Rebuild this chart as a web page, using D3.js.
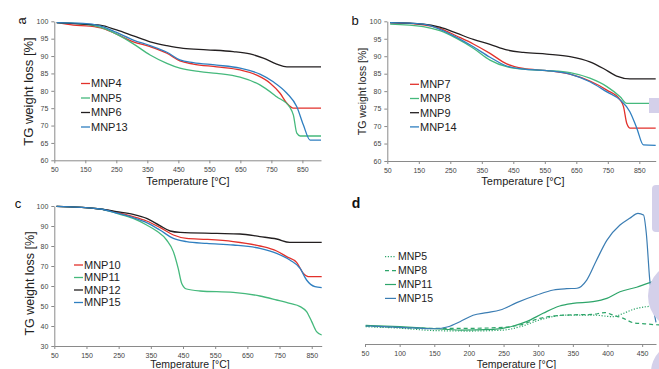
<!DOCTYPE html>
<html>
<head>
<meta charset="utf-8">
<script src="https://cdn.jsdelivr.net/npm/d3@7"></script>
<style>
  body { margin: 0; background: #fff; }
  svg { display: block; font-family: "Liberation Sans", Arial, sans-serif; }
</style>
</head>
<body>
<svg id="vis" width="659" height="369"></svg>
<script>
// ---- data: [temperature °C, value] ----
const tgTicksX = [50, 150, 250, 350, 450, 550, 650, 750, 850];
const tgTicksYab = [60, 65, 70, 75, 80, 85, 90, 95, 100];
const tgTicksYc = [30, 40, 50, 60, 70, 80, 90, 100];
const dtgTicksX = [50, 100, 150, 200, 250, 300, 350, 400, 450];

// panel a
const MNP4 = [[58,99.6],[111,98.9],[165,98.6],[208,97.9],[251,96.3],[305,94.1],[359,92.7],[413,90.8],[455,88.6],[498,87.7],[574,86.9],[649,86.0],[703,84.5],[746,82.2],[778,79.3],[800,76.4],[821,75.0],[910,75.0]];
const MNP5 = [[58,99.6],[143,99.2],[197,98.3],[251,96.3],[305,93.5],[359,90.3],[413,87.9],[455,86.5],[520,85.5],[574,85.0],[649,83.9],[713,81.7],[767,78.3],[810,75.2],[821,73.0],[832,67.8],[843,67.0],[910,67.0]];
const MNP6 = [[58,99.6],[143,99.2],[197,98.9],[251,97.5],[305,95.8],[359,94.1],[413,93.0],[466,92.2],[542,91.8],[627,91.3],[681,90.6],[724,89.4],[767,87.7],[800,86.9],[910,86.9]];
const MNP13 = [[58,99.6],[143,99.4],[197,98.7],[251,96.8],[305,94.6],[359,93.0],[413,91.1],[455,88.9],[498,88.1],[574,87.4],[649,86.5],[713,84.8],[756,82.6],[800,79.3],[832,75.4],[853,70.2],[875,65.8],[910,65.8]];

// panel b
const MNP7 = [[59,99.6],[164,99.0],[217,98.0],[270,95.8],[323,93.5],[376,90.8],[429,87.8],[482,86.5],[556,85.9],[630,84.9],[693,82.9],[747,80.3],[789,77.5],[800,75.5],[810,70.8],[821,69.4],[902,69.4]];
const MNP8 = [[59,99.2],[164,98.5],[217,97.3],[270,95.1],[323,92.3],[376,88.9],[429,87.0],[482,86.3],[556,85.9],[630,85.3],[693,83.7],[747,81.3],[789,78.4],[810,76.5],[902,76.5]];
const MNP9 = [[59,99.6],[164,99.2],[217,98.3],[270,96.6],[323,94.8],[376,93.4],[429,91.8],[482,91.1],[556,90.6],[630,89.9],[693,88.4],[736,86.5],[778,84.3],[820,83.5],[902,83.5]];
const MNP14 = [[59,99.6],[164,99.2],[217,97.7],[270,95.4],[323,92.7],[376,89.7],[429,87.2],[482,86.3],[556,85.9],[630,84.9],[693,82.7],[747,79.8],[789,77.5],[820,74.1],[842,69.4],[863,64.6],[902,64.5]];

// panel c
const MNP10 = [[57,99.8],[192,98.5],[244,96.8],[295,94.7],[337,92.5],[378,89.3],[420,85.5],[461,83.8],[524,83.3],[606,82.2],[689,80.0],[741,77.5],[772,74.7],[803,71.8],[824,66.3],[839,64.7],[881,64.7]];
const MNP11 = [[57,99.8],[192,98.5],[244,96.3],[295,93.8],[337,90.5],[368,87.5],[399,83.0],[420,77.2],[435,68.8],[446,61.3],[461,58.5],[503,57.5],[606,56.8],[689,55.0],[741,53.0],[782,51.3],[814,49.7],[834,47.2],[850,42.2],[865,37.2],[881,35.5]];
const MNP12 = [[57,99.8],[192,98.5],[244,97.2],[295,95.8],[337,93.8],[378,90.2],[410,87.5],[441,86.8],[555,86.3],[627,86.0],[689,84.7],[741,83.5],[782,81.8],[881,81.8]];
const MNP15 = [[57,99.8],[192,98.5],[244,96.5],[295,94.2],[337,91.7],[378,88.0],[420,83.8],[461,82.2],[524,81.3],[606,80.5],[689,78.8],[741,76.3],[782,73.0],[814,68.8],[834,63.0],[860,59.7],[881,59.2]];

// panel d (DTG, arbitrary units)
const dMNP5 = [[51,12.0],[100,11.0],[151,9.3],[201,9.0],[250,9.7],[274,12.0],[302,16.7],[341,20.1],[379,20.1],[408,19.0],[423,21.3],[437,24.0],[456,25.9],[466,26.4],[475,26.6]];
const dMNP8 = [[51,12.5],[151,10.9],[201,10.9],[250,11.6],[274,13.2],[302,17.8],[341,20.1],[379,20.6],[396,21.8],[408,20.1],[423,17.8],[437,14.8],[456,13.9],[475,13.2]];
const dMNP11 = [[51,13.0],[100,12.0],[151,10.6],[187,9.7],[235,10.2],[264,12.5],[283,15.5],[307,21.3],[331,26.4],[350,28.2],[379,29.4],[399,31.7],[418,36.3],[442,39.4],[461,42.6],[468,43.5]];
const dMNP15 = [[51,12.5],[100,11.6],[151,10.6],[170,12.0],[187,15.5],[206,20.0],[226,21.8],[245,23.6],[269,28.7],[298,34.0],[322,37.5],[341,38.4],[356,38.7],[370,44.4],[384,58.0],[399,72.0],[418,82.6],[432,87.3],[444,90.7],[452,89.6],[456,76.9],[461,44.4],[466,26.0],[470,15.0]];

const red = "#e2312b", green = "#45b97c", black = "#231f20", blue = "#2f7fc0";
const dGreen = "#2ea56a", dBlue = "#3b7db3";

const svg = d3.select("#vis");
const axisGray = "#8a8a8a";

function styleAxis(g) {
  g.select(".domain").attr("stroke", axisGray);
  g.selectAll(".tick line").attr("stroke", axisGray);
  g.selectAll(".tick text")
    .attr("fill", "#444")
    .attr("font-size", 7)
    .attr("font-family", "\"Liberation Sans\", Arial, sans-serif");
}

function drawTG(p) {
  const x = d3.scaleLinear().domain(p.xDomain).range([p.left, p.right]);
  const y = d3.scaleLinear().domain(p.yDomain).range([p.bottom, p.top]);
  const g = svg.append("g").attr("class", p.name);

  g.append("g")
    .attr("transform", `translate(0,${p.bottom})`)
    .call(d3.axisBottom(x).tickValues(tgTicksX).tickSize(3).tickSizeOuter(0).tickPadding(4))
    .call(styleAxis);

  g.append("g")
    .attr("transform", `translate(${p.left},0)`)
    .call(d3.axisLeft(y).tickValues(p.yTicks).tickSize(3).tickSizeOuter(0).tickPadding(3))
    .call(styleAxis);

  const line = d3.line()
    .x(d => x(d[0]))
    .y(d => y(d[1]))
    .curve(d3.curveMonotoneX);

  g.append("g").selectAll("path")
    .data(p.series)
    .join("path")
    .attr("d", d => line(d.values))
    .attr("fill", "none")
    .attr("stroke", d => d.color)
    .attr("stroke-width", 1.3);

  // legend
  const leg = g.append("g").attr("font-size", p.legendSize).attr("fill", "#222");
  p.series.forEach((s, i) => {
    const ly = p.legendY + i * p.legendStep;
    leg.append("line")
      .attr("x1", p.legendX).attr("x2", p.legendX + 9)
      .attr("y1", ly).attr("y2", ly)
      .attr("stroke", s.color).attr("stroke-width", 1.3);
    leg.append("text")
      .attr("x", p.legendX + 10).attr("y", ly)
      .attr("dy", "0.35em")
      .text(s.key);
  });

  g.append("text")
    .attr("transform", `translate(${p.yLabelX},${p.yLabelY}) rotate(-90)`)
    .attr("text-anchor", "middle")
    .attr("dy", "0.35em")
    .attr("font-size", p.yLabelSize)
    .attr("fill", "#222")
    .text("TG weight loss [%]");

  g.append("text")
    .attr("x", p.xLabelX).attr("y", p.xLabelY)
    .attr("text-anchor", "middle")
    .attr("font-size", p.xLabelSize || 11)
    .attr("fill", "#222")
    .text("Temperature [°C]");

  const tag = g.append("text")
    .attr("text-anchor", "middle")
    .attr("dy", "0.35em")
    .attr("font-size", 13)
    .attr("fill", "#111")
    .text(p.tag);
  if (p.tagRotate) tag.attr("transform", `translate(${p.tagX},${p.tagY}) rotate(-90)`);
  else tag.attr("x", p.tagX).attr("y", p.tagY);
}

drawTG({
  name: "panel-a", tag: "a", tagX: 21, tagY: 21, tagRotate: true,
  left: 54.3, right: 321, top: 21.3, bottom: 160.3,
  xDomain: [50, 910], yDomain: [60, 100], yTicks: tgTicksYab,
  series: [
    { key: "MNP4", color: red, values: MNP4 },
    { key: "MNP5", color: green, values: MNP5 },
    { key: "MNP6", color: black, values: MNP6 },
    { key: "MNP13", color: blue, values: MNP13 }
  ],
  legendX: 81, legendY: 83.5, legendStep: 14.5, legendSize: 11,
  yLabelX: 28, yLabelY: 91.5, yLabelSize: 13,
  xLabelX: 188, xLabelY: 185
});

drawTG({
  name: "panel-b", tag: "b", tagX: 355, tagY: 20,
  left: 387.3, right: 655.7, top: 21.3, bottom: 161,
  xDomain: [50, 902], yDomain: [60, 100], yTicks: tgTicksYab,
  series: [
    { key: "MNP7", color: red, values: MNP7 },
    { key: "MNP8", color: green, values: MNP8 },
    { key: "MNP9", color: black, values: MNP9 },
    { key: "MNP14", color: blue, values: MNP14 }
  ],
  legendX: 410, legendY: 84.3, legendStep: 14.2, legendSize: 11,
  yLabelX: 362, yLabelY: 91.5, yLabelSize: 10.5,
  xLabelX: 523, xLabelY: 185
});

drawTG({
  name: "panel-c", tag: "c", tagX: 18, tagY: 203,
  left: 54.3, right: 321.7, top: 206, bottom: 346,
  xDomain: [50, 881], yDomain: [30, 100], yTicks: tgTicksYc,
  series: [
    { key: "MNP10", color: red, values: MNP10 },
    { key: "MNP11", color: green, values: MNP11 },
    { key: "MNP12", color: black, values: MNP12 },
    { key: "MNP15", color: blue, values: MNP15 }
  ],
  legendX: 74, legendY: 265, legendStep: 12.5, legendSize: 11,
  yLabelX: 30, yLabelY: 283.5, yLabelSize: 12.5,
  xLabelX: 190, xLabelY: 368, xLabelSize: 10.5
});

// ---- panel d: DTG curves, x axis only ----
(function drawDTG() {
  const left = 365, right = 656, axisY = 344;
  const x = d3.scaleLinear().domain([50, 470]).range([left, right]);
  const y = d3.scaleLinear().domain([0, 100]).range([axisY, axisY - 144]);
  const g = svg.append("g").attr("class", "panel-d");

  g.append("g")
    .attr("transform", `translate(0,${axisY})`)
    .call(d3.axisBottom(x).tickValues(dtgTicksX).tickSize(3).tickSizeOuter(0).tickPadding(4))
    .call(styleAxis);

  const line = d3.line()
    .x(d => x(d[0]))
    .y(d => y(d[1]))
    .curve(d3.curveMonotoneX);

  const series = [
    { key: "MNP5", color: dGreen, dash: "1.2,1.6", values: dMNP5 },
    { key: "MNP8", color: dGreen, dash: "4,3", values: dMNP8 },
    { key: "MNP11", color: dGreen, dash: null, values: dMNP11 },
    { key: "MNP15", color: dBlue, dash: null, values: dMNP15 }
  ];

  g.append("g").selectAll("path")
    .data(series)
    .join("path")
    .attr("d", d => line(d.values))
    .attr("fill", "none")
    .attr("stroke", d => d.color)
    .attr("stroke-width", 1.2)
    .attr("stroke-dasharray", d => d.dash);

  const leg = g.append("g").attr("font-size", 10.5).attr("fill", "#222");
  series.forEach((s, i) => {
    const ly = 256.7 + i * 13.9;
    leg.append("line")
      .attr("x1", 385).attr("x2", 396)
      .attr("y1", ly).attr("y2", ly)
      .attr("stroke", s.color).attr("stroke-width", 1.2)
      .attr("stroke-dasharray", s.dash);
    leg.append("text")
      .attr("x", 398).attr("y", ly).attr("dy", "0.35em")
      .text(s.key);
  });

  g.append("text")
    .attr("x", 516.5).attr("y", 368)
    .attr("text-anchor", "middle")
    .attr("font-size", 10.5)
    .attr("fill", "#222")
    .text("Temperature [°C]");

  g.append("text")
    .attr("x", 356).attr("y", 203)
    .attr("text-anchor", "middle").attr("dy", "0.35em")
    .attr("font-size", 14).attr("font-weight", "bold")
    .attr("fill", "#111")
    .text("d");
})();

// lavender page decorations on the right edge
const deco = svg.append("g").attr("fill", "#d4d0ea");
deco.append("rect").attr("x", 649).attr("y", 98).attr("width", 12).attr("height", 15);
deco.append("rect").attr("x", 652).attr("y", 185).attr("width", 10).attr("height", 47).attr("rx", 4);
deco.append("circle").attr("cx", 682).attr("cy", 296).attr("r", 34);
deco.append("circle").attr("cx", 680).attr("cy", 372).attr("r", 29);
</script>
</body>
</html>
